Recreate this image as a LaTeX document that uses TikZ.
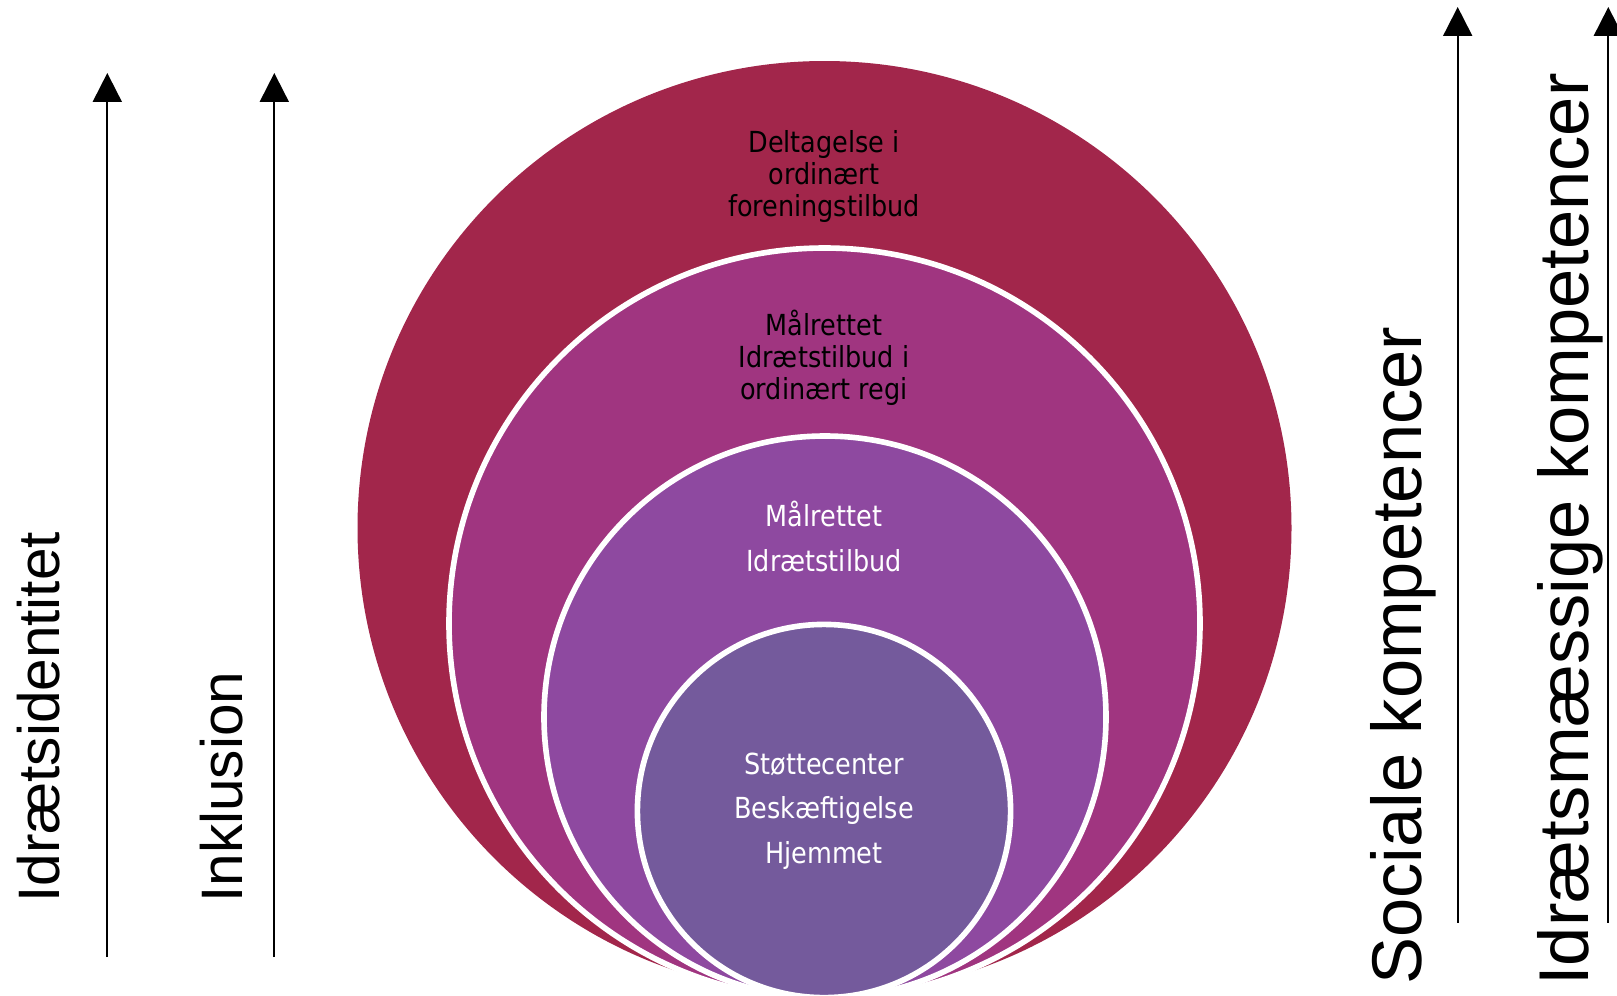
\documentclass[tikz,border=0pt]{standalone}
\usepackage{fontspec}
\setmainfont{Liberation Sans}
\newfontfamily\circfont[FakeStretch=0.88]{DejaVu Sans}
\usetikzlibrary{arrows.meta}
\definecolor{cone}{HTML}{A2264B}
\definecolor{ctwo}{HTML}{A03580}
\definecolor{cthree}{HTML}{8E49A0}
\definecolor{cfour}{HTML}{745A9C}
\tikzset{
  ring/.style={draw=white, line width=3.2pt},
  uparrow/.style={-{Triangle[length=16.5pt,width=16.5pt]}, line width=1.14pt, black},
  sidelabel/.style={rotate=90, anchor=base west, inner sep=0pt, font=\fontsize{33.3}{38}\selectfont},
  biglabel/.style={rotate=90, anchor=base west, inner sep=0pt, font=\fontsize{40.1}{46}\selectfont},
  tightblock/.style={align=center, anchor=base, inner sep=0pt, font=\circfont\fontsize{16.5}{18.2}\selectfont},
  looseblock/.style={align=center, anchor=base, inner sep=0pt, font=\circfont\fontsize{16.5}{25.3}\selectfont, text=white}
}
\begin{document}
\begin{tikzpicture}[x=0.02cm, y=-0.02cm]
\useasboundingbox (0,0) rectangle (1617,995);
\begin{scope}
\clip (0,0) rectangle (1617,995);
\coordinate (c1) at (824.5,528);
\coordinate (c2) at (824.5,623.5);
\coordinate (c3) at (825,717);
\coordinate (c4) at (824,811);
\fill[cone] (c1) circle[radius=467];
\filldraw[ring, fill=ctwo] (c2) circle[radius=375.5];
\filldraw[ring, fill=cthree] (c3) circle[radius=281];
\filldraw[ring, fill=cfour] (c4) circle[radius=186.6];
\end{scope}
\node[tightblock] (t1) at (824,216) {Deltagelse i\\ordinært\\foreningstilbud};
\node[tightblock] (t2) at (824,399) {Målrettet\\Idrætstilbud i\\ordinært regi};
\node[looseblock] (t3) at (824,571) {Målrettet\\Idrætstilbud};
\node[looseblock] (t4) at (824,863) {Støttecenter\\Beskæftigelse\\Hjemmet};
% left arrows
\coordinate (a1b) at (107.3,957);
\coordinate (a1t) at (107.3,73);
\coordinate (a2b) at (274.3,957);
\coordinate (a2t) at (274.3,73);
\draw[uparrow] (a1b) -- (a1t);
\draw[uparrow] (a2b) -- (a2t);
% right arrows
\coordinate (a3b) at (1457.7,922.7);
\coordinate (a3t) at (1457.7,7);
\coordinate (a4b) at (1608.3,922.7);
\coordinate (a4t) at (1608.3,7);
\draw[uparrow] (a3b) -- (a3t);
\draw[uparrow] (a4b) -- (a4t);
% labels
\node[sidelabel] (l1) at (59,903) {Idrætsidentitet};
\node[sidelabel] (l2) at (242,903) {Inklusion};
\node[biglabel] (l3) at (1421.7,985) {Sociale kompetencer};
\node[biglabel] (l4) at (1588,986) {Idrætsmæssige kompetencer};
\end{tikzpicture}
\end{document}
